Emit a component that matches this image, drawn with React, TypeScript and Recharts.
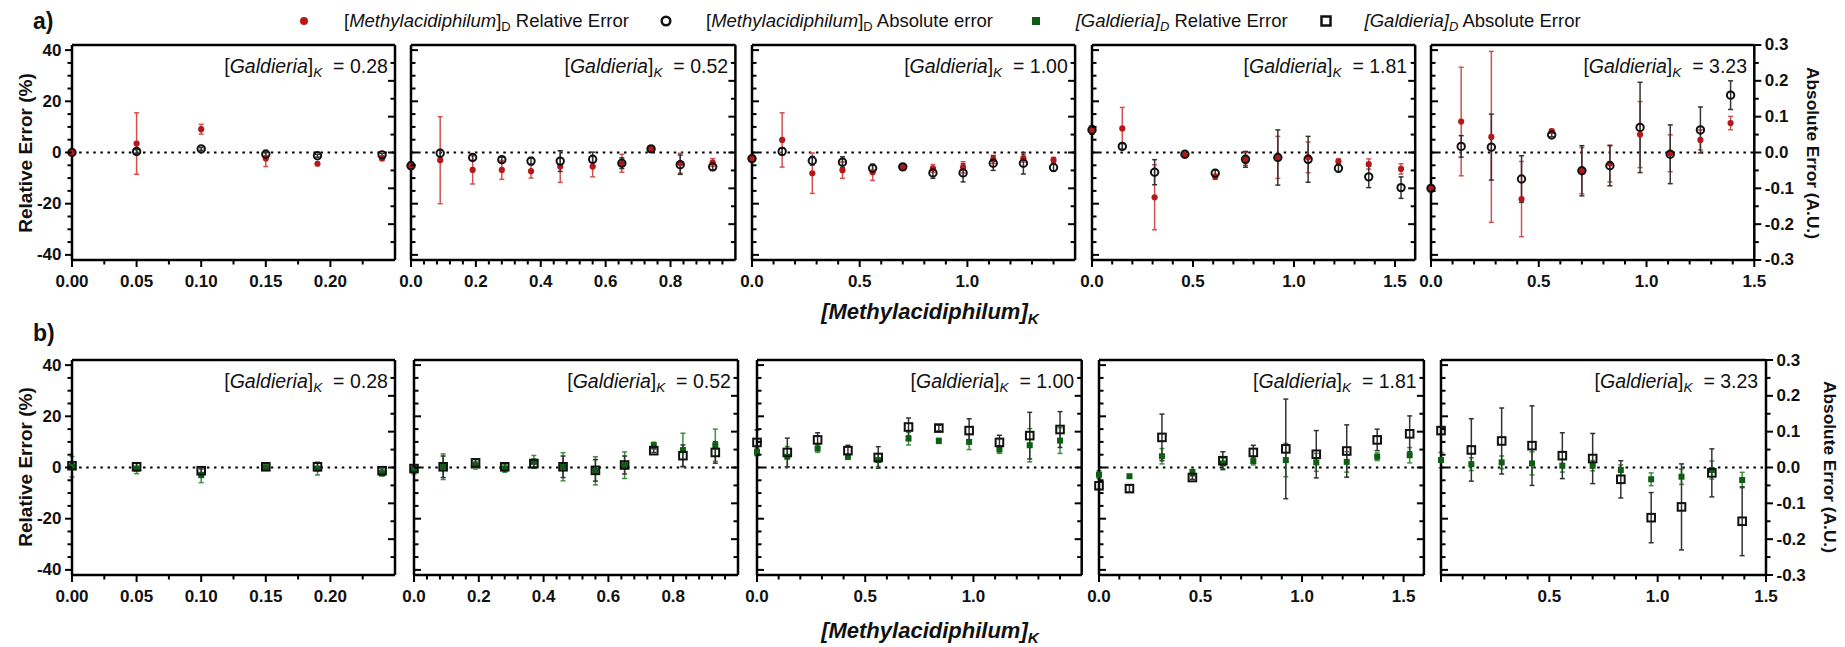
import React from "react";
import { ScatterChart, Scatter, XAxis, YAxis, ErrorBar, ReferenceLine } from "recharts";

// [Galdieria]K of each panel (left to right)
const GALDIERIA_K = ["0.28", "0.52", "1.00", "1.81", "3.23"];

// [Methylacidiphilum]K sampled in each panel
const METHYL_K = [
  [0, 0.05, 0.1, 0.15, 0.19, 0.24],
  [0, 0.09, 0.19, 0.28, 0.37, 0.46, 0.56, 0.65, 0.74, 0.83, 0.93],
  [0, 0.14, 0.28, 0.42, 0.56, 0.7, 0.84, 0.98, 1.12, 1.26, 1.4],
  [0, 0.15, 0.31, 0.46, 0.61, 0.76, 0.92, 1.07, 1.22, 1.37, 1.53],
  [0, 0.14, 0.28, 0.42, 0.56, 0.7, 0.83, 0.97, 1.11, 1.25, 1.39],
];

// row a: [Methylacidiphilum]D relative error (%)
const METHYL_REL = [
  [0, 3.5, 9.1, -2.3, -4.4, -2.3],
  [-5.2, -3.0, -6.8, -6.8, -7.3, -5.5, -5.5, -4.2, 1.4, -4.2, -3.9],
  [-2.3, 4.9, -8.1, -6.9, -7.7, -5.6, -6.2, -5.8, -2.7, -2.2, -2.9],
  [8.8, 9.4, -17.5, -1.0, -9.5, -2.5, -1.9, -1.9, -3.5, -4.5, -6.4],
  [-14, 12.1, 6.1, -18.2, 8.4, -7.1, -4.3, 7.0, -0.3, 4.9, 11.5],
];
const METHYL_REL_ERR = [
  [0.5, 12, 1.9, 3.2, 0.5, 0.8],
  [1, 17, 5.5, 3.7, 2.7, 6.2, 4, 3.5, 0.8, 3.9, 1.5],
  [0.5, 10.6, 7.9, 3.2, 3.2, 1, 1.5, 2.2, 1.6, 1.5, 1],
  [1, 8.2, 12.7, 1, 1, 2.5, 8.2, 6, 1, 2, 2],
  [1, 21.2, 33.4, 14.7, 0.6, 9, 7.2, 12.9, 7.2, 3.9, 2.6],
];
// row a: [Methylacidiphilum]D absolute error (A.U.)
const METHYL_ABS = [
  [0, 0.003, 0.01, -0.005, -0.009, -0.0065],
  [-0.037, -0.002, -0.014, -0.02, -0.024, -0.024, -0.019, -0.03, 0.01, -0.034, -0.04],
  [-0.017, 0.003, -0.023, -0.027, -0.044, -0.04, -0.057, -0.057, -0.03, -0.03, -0.042],
  [0.063, 0.017, -0.055, -0.005, -0.058, -0.019, -0.014, -0.019, -0.044, -0.068, -0.098],
  [-0.1, 0.017, 0.015, -0.074, 0.049, -0.051, -0.037, 0.07, -0.005, 0.063, 0.16],
];
const METHYL_ABS_ERR = [
  [0.003, 0.005, 0.004, 0.005, 0.004, 0.004],
  [0.01, 0.01, 0.008, 0.007, 0.01, 0.029, 0.02, 0.015, 0.004, 0.027, 0.01],
  [0.004, 0.01, 0.012, 0.015, 0.01, 0.008, 0.015, 0.025, 0.02, 0.03, 0.01],
  [0.012, 0.008, 0.035, 0.005, 0.01, 0.022, 0.077, 0.064, 0.01, 0.03, 0.03],
  [0.005, 0.03, 0.092, 0.065, 0.005, 0.07, 0.056, 0.126, 0.082, 0.064, 0.04],
];

// row b: [Galdieria]D relative error (%)
const GALD_REL = [
  [0.3, -0.4, -3.0, 0, -0.4, -2.3],
  [-1.0, 0.3, 0.9, -0.4, 2.2, 0.3, -1.3, 0.9, 8.7, 6.8, 8.7],
  [6.1, 4.2, 7.4, 4.2, 2.9, 11.3, 10.4, 10, 7.0, 8.7, 10.5],
  [-2.8, -3.4, 4.4, -1.7, 1.6, 2.5, 2.9, 2.0, 2.2, 4.2, 4.8],
  [2.9, 1.3, 2.0, 1.6, 0.7, 0.7, -1.0, -4.6, -3.6, -1.0, -4.9],
];
const GALD_REL_ERR = [
  [4, 2, 2.9, 1, 2.5, 1],
  [1.5, 5, 1.5, 1.5, 2.5, 5.5, 5.5, 5.2, 1.2, 6.6, 6.3],
  [1.5, 4, 1.5, 1, 2.5, 2.5, 1, 3, 1.5, 6.5, 5],
  [1.5, 0.5, 3, 0.5, 2, 1.5, 6.5, 3.5, 4, 1.5, 3],
  [3, 2.5, 2.5, 4.5, 2.5, 2, 2, 2.5, 3, 3.5, 3],
];
// row b: [Galdieria]D absolute error (A.U.)
const GALD_ABS = [
  [0.005, 0.002, -0.009, 0.002, 0.002, -0.009],
  [-0.003, 0.002, 0.013, 0.002, 0.011, 0.002, -0.008, 0.007, 0.047, 0.033, 0.042],
  [0.07, 0.042, 0.077, 0.047, 0.028, 0.113, 0.11, 0.103, 0.07, 0.089, 0.106],
  [-0.051, -0.059, 0.084, -0.028, 0.019, 0.042, 0.052, 0.037, 0.046, 0.077, 0.094],
  [0.103, 0.049, 0.074, 0.061, 0.033, 0.025, -0.033, -0.14, -0.11, -0.015, -0.15],
];
const GALD_ABS_ERR = [
  [0.005, 0.01, 0.005, 0.004, 0.01, 0.005],
  [0.005, 0.03, 0.01, 0.01, 0.012, 0.03, 0.03, 0.025, 0.005, 0.03, 0.03],
  [0.035, 0.04, 0.02, 0.015, 0.03, 0.025, 0.008, 0.033, 0.02, 0.065, 0.05],
  [0.01, 0.01, 0.065, 0.005, 0.025, 0.02, 0.139, 0.066, 0.073, 0.03, 0.05],
  [0.01, 0.087, 0.092, 0.111, 0.064, 0.07, 0.052, 0.07, 0.12, 0.067, 0.096],
];

// axes
const X_MAX = [0.25, 1.0, 1.5, 1.6, 1.5];
const X_MAJOR = [
  [0, 0.05, 0.1, 0.15, 0.2],
  [0, 0.2, 0.4, 0.6, 0.8],
  [0, 0.5, 1.0],
  [0, 0.5, 1.0, 1.5],
  [0, 0.5, 1.0, 1.5],
];
const X_MINOR_STEP = [0.025, 0.04, 0.1, 0.1, 0.1];
const X_DECIMALS = [2, 1, 1, 1, 1];
const REL_MAJOR = [-40, -20, 0, 20, 40];
const ABS_MAJOR = [-0.3, -0.2, -0.1, 0, 0.1, 0.2, 0.3];

// layout
const FONT = '"Liberation Sans", Arial, Helvetica, sans-serif';
const PLOT_H = 215;
const ROW_TOP = [45, 360];
const ROW_LEFT = [
  [72.4, 411.2, 752.2, 1091.5, 1431.2],
  [72.4, 414.4, 757, 1099.3, 1440.7],
];
const ROW_RIGHT = [
  [395.4, 735.6, 1075.3, 1414.7, 1754.5],
  [395.4, 738.4, 1081.7, 1424.2, 1765.7],
];
const ML = 60, MR = 60, MT = 10, MB = 40;

const RED = "#b51818";
const RED_BAR = "#d25252";
const GREEN = "#0d5e12";
const GREEN_BAR = "#3f8f3f";
const INK = "#111";
const INK_BAR = "#333";

function range(a: number, b: number, step: number) {
  const out: number[] = [];
  for (let i = 0; a + i * step <= b + 1e-9; i++) out.push(Math.round((a + i * step) * 1e6) / 1e6);
  return out;
}
const REL_TICKS = range(-40, 40, 5);
const ABS_TICKS = range(-0.3, 0.3, 0.05);

const has = (arr: number[], v: number) => arr.some((m) => Math.abs(m - v) < 1e-6);

function AxisTick(props: any) {
  const { x, y, payload, side, inward, majors, showLabels, fmt, skip } = props;
  const v = payload.value;
  const major = has(majors, v);
  const len = major ? 7 : 4.5;
  const label = showLabels && major && !(skip && has(skip, v));
  const txt = { fontFamily: FONT, fontWeight: 700, fontSize: 17, fill: "#111" } as const;
  if (side === "left") {
    const d = inward ? 1 : -1;
    return (
      <g>
        <line x1={x} y1={y} x2={x + d * len} y2={y} stroke="#000" strokeWidth={2} />
        {label && (
          <text x={x - 10.5} y={y} textAnchor="end" dominantBaseline="central" {...txt}>{fmt(v)}</text>
        )}
      </g>
    );
  }
  if (side === "right") {
    const d = inward ? -1 : 1;
    return (
      <g>
        <line x1={x} y1={y} x2={x + d * len} y2={y} stroke="#000" strokeWidth={2} />
        {label && (
          <text x={x + 10.5} y={y} textAnchor="start" dominantBaseline="central" {...txt}>{fmt(v)}</text>
        )}
      </g>
    );
  }
  return (
    <g>
      <line x1={x} y1={y} x2={x} y2={y + len} stroke="#000" strokeWidth={2} />
      {label && (
        <text x={x} y={y + 21.7} textAnchor="middle" dominantBaseline="central" {...txt}>{fmt(v)}</text>
      )}
    </g>
  );
}

const dot = (color: string, r: number) => (p: any) => <circle cx={p.cx} cy={p.cy} r={r} fill={color} />;
const ring = (p: any) => <circle cx={p.cx} cy={p.cy} r={3.7} fill="none" stroke={INK} strokeWidth={2} />;
const fsq = (p: any) => <rect x={p.cx - 3} y={p.cy - 3} width={6} height={6} fill={GREEN} />;
const osq = (p: any) => <rect x={p.cx - 3.8} y={p.cy - 3.8} width={7.6} height={7.6} fill="none" stroke={INK} strokeWidth={2} />;

function Panel({ row, p }: { row: number; p: number }) {
  const left = ROW_LEFT[row][p];
  const w = ROW_RIGHT[row][p] - left;
  const xs = METHYL_K[p];
  const rel = (row === 0 ? METHYL_REL : GALD_REL)[p];
  const relE = (row === 0 ? METHYL_REL_ERR : GALD_REL_ERR)[p];
  const abs = (row === 0 ? METHYL_ABS : GALD_ABS)[p];
  const absE = (row === 0 ? METHYL_ABS_ERR : GALD_ABS_ERR)[p];
  const relData = xs.map((x, i) => ({ x, y: rel[i], e: relE[i] }));
  const absData = xs.map((x, i) => ({ x, y: abs[i], e: absE[i] }));
  const xTicks = range(0, X_MAX[p] - 1e-6, X_MINOR_STEP[p]);
  if (p === 4) xTicks.push(1.5);
  const dec = X_DECIMALS[p];
  const axisLine = { stroke: "#000", strokeWidth: 2.5 };

  return (
    <div style={{ position: "absolute", left: left - ML, top: ROW_TOP[row] - MT }}>
      <ScatterChart
        width={w + ML + MR}
        height={PLOT_H + MT + MB}
        margin={{ top: MT, right: MR - 1, bottom: MB - 1, left: ML - 1 }}
      >
        <XAxis
          xAxisId="x"
          type="number"
          dataKey="x"
          domain={[0, X_MAX[p]]}
          ticks={xTicks}
          interval={0}
          height={1}
          tickSize={0}
          tickMargin={0}
          tickLine={false}
          axisLine={axisLine}
          tick={(t: any) => (
            <AxisTick {...t} side="bottom" majors={X_MAJOR[p]} showLabels fmt={(v: number) => v.toFixed(dec)} skip={row === 1 && p === 4 ? [0] : undefined} />
          )}
        />
        <YAxis
          yAxisId="left"
          type="number"
          dataKey="y"
          orientation="left"
          domain={[-42, 42]}
          ticks={REL_TICKS}
          interval={0}
          width={1}
          tickSize={0}
          tickMargin={0}
          tickLine={false}
          axisLine={axisLine}
          tick={(t: any) => (
            <AxisTick {...t} side="left" inward={p !== 0} majors={REL_MAJOR} showLabels={p === 0} fmt={(v: number) => String(v)} />
          )}
        />
        <YAxis
          yAxisId="right"
          type="number"
          dataKey="y"
          orientation="right"
          domain={[-0.3, 0.3]}
          ticks={ABS_TICKS}
          interval={0}
          width={1}
          tickSize={0}
          tickMargin={0}
          tickLine={false}
          axisLine={axisLine}
          tick={(t: any) => (
            <AxisTick {...t} side="right" inward={p !== 4} majors={ABS_MAJOR} showLabels={p === 4} fmt={(v: number) => (Math.abs(v) < 1e-9 ? "0.0" : v.toFixed(1))} />
          )}
        />
        <ReferenceLine xAxisId="x" yAxisId="left" y={42} stroke="#000" strokeWidth={2.5} />
        <ReferenceLine xAxisId="x" yAxisId="left" y={0} stroke="#000" strokeWidth={2} strokeDasharray="2.5 4.6" />
        <Scatter xAxisId="x" yAxisId="left" data={relData} shape={row === 0 ? dot(RED, 3.1) : fsq} isAnimationActive={false}>
          <ErrorBar dataKey="e" direction="y" width={2.5} stroke={row === 0 ? RED_BAR : GREEN_BAR} strokeWidth={1.5} isAnimationActive={false} />
        </Scatter>
        <Scatter xAxisId="x" yAxisId="right" data={absData} shape={row === 0 ? ring : osq} isAnimationActive={false}>
          <ErrorBar dataKey="e" direction="y" width={2.5} stroke={INK_BAR} strokeWidth={1.5} isAnimationActive={false} />
        </Scatter>
      </ScatterChart>
    </div>
  );
}

const sub = (t: string, italic = false) => (
  <span style={{ fontSize: "0.7em", position: "relative", top: "0.32em", fontStyle: italic ? "italic" : "normal" }}>{t}</span>
);

function Annotation({ row, p }: { row: number; p: number }) {
  return (
    <div
      style={{
        position: "absolute",
        left: ROW_RIGHT[row][p] - 7.5,
        top: ROW_TOP[row] + 21.7,
        transform: "translate(-100%, -50%)",
        fontFamily: FONT,
        fontSize: 19.5,
        lineHeight: 1,
        whiteSpace: "nowrap",
        color: "#111",
      }}
    >
      [<i>Galdieria</i>]{sub("K", true)}&nbsp;&nbsp;= {GALDIERIA_K[p]}
    </div>
  );
}

function LegendItem({ x, tx, marker, children }: { x: number; tx: number; marker: React.ReactNode; children: React.ReactNode }) {
  return (
    <>
      <svg style={{ position: "absolute", left: x - 8, top: 20.7 - 8 }} width={16} height={16}>
        {marker}
      </svg>
      <div
        style={{
          position: "absolute",
          left: tx,
          top: 20.7,
          transform: "translateY(-50%)",
          fontFamily: FONT,
          fontSize: 18.5,
          lineHeight: 1,
          whiteSpace: "nowrap",
          color: "#111",
        }}
      >
        {children}
      </div>
    </>
  );
}

const XTitle = ({ y }: { y: number }) => (
  <div
    style={{
      position: "absolute",
      left: 930,
      top: y,
      transform: "translate(-50%, -50%)",
      fontFamily: FONT,
      fontSize: 22,
      fontWeight: 700,
      fontStyle: "italic",
      lineHeight: 1,
      whiteSpace: "nowrap",
      color: "#111",
    }}
  >
    [Methylacidiphilum]{sub("K", true)}
  </div>
);

const YTitle = ({ x, y, text, rot, size }: { x: number; y: number; text: string; rot: number; size: number }) => (
  <div
    style={{
      position: "absolute",
      left: x,
      top: y,
      transform: `translate(-50%, -50%) rotate(${rot}deg)`,
      fontFamily: FONT,
      fontSize: size,
      fontWeight: 700,
      lineHeight: 1,
      whiteSpace: "nowrap",
      color: "#111",
    }}
  >
    {text}
  </div>
);

const RowTag = ({ y, t }: { y: number; t: string }) => (
  <div
    style={{
      position: "absolute",
      left: 33,
      top: y,
      transform: "translateY(-50%)",
      fontFamily: FONT,
      fontSize: 23,
      fontWeight: 700,
      lineHeight: 1,
      color: "#111",
    }}
  >
    {t}
  </div>
);

export default function App() {
  const panels = [0, 1, 2, 3, 4];
  return (
    <div style={{ position: "absolute", left: 0, top: 0, width: 1845, height: 647, background: "#fff", overflow: "hidden" }}>
      <RowTag y={20.7} t="a)" />
      <RowTag y={333} t="b)" />

      <LegendItem x={303.7} tx={344} marker={<circle cx={8} cy={8} r={4} fill={RED} />}>
        [<i>Methylacidiphilum</i>]{sub("D")} Relative Error
      </LegendItem>
      <LegendItem x={666.4} tx={706} marker={<circle cx={8} cy={8} r={4.3} fill="none" stroke={INK} strokeWidth={2.5} />}>
        [<i>Methylacidiphilum</i>]{sub("D")} Absolute error
      </LegendItem>
      <LegendItem x={1036} tx={1075.7} marker={<rect x={4} y={4} width={8} height={8} fill={GREEN} />}>
        <i>[Galdieria]</i>{sub("D", true)} Relative Error
      </LegendItem>
      <LegendItem x={1325.5} tx={1364.6} marker={<rect x={3.5} y={3.5} width={9} height={9} fill="none" stroke={INK} strokeWidth={2.5} />}>
        <i>[Galdieria]</i>{sub("D", true)} Absolute Error
      </LegendItem>

      {panels.map((p) => (
        <Panel key={`a${p}`} row={0} p={p} />
      ))}
      {panels.map((p) => (
        <Panel key={`b${p}`} row={1} p={p} />
      ))}
      {panels.map((p) => (
        <Annotation key={`na${p}`} row={0} p={p} />
      ))}
      {panels.map((p) => (
        <Annotation key={`nb${p}`} row={1} p={p} />
      ))}

      <XTitle y={312} />
      <XTitle y={630.7} />

      <YTitle x={25} y={153} text="Relative Error (%)" rot={-90} size={19} />
      <YTitle x={25} y={467} text="Relative Error (%)" rot={-90} size={19} />
      <YTitle x={1812} y={152.5} text="Absolute Error (A.U.)" rot={90} size={17.3} />
      <YTitle x={1829} y={467} text="Absolute Error (A.U.)" rot={90} size={17.3} />
    </div>
  );
}
